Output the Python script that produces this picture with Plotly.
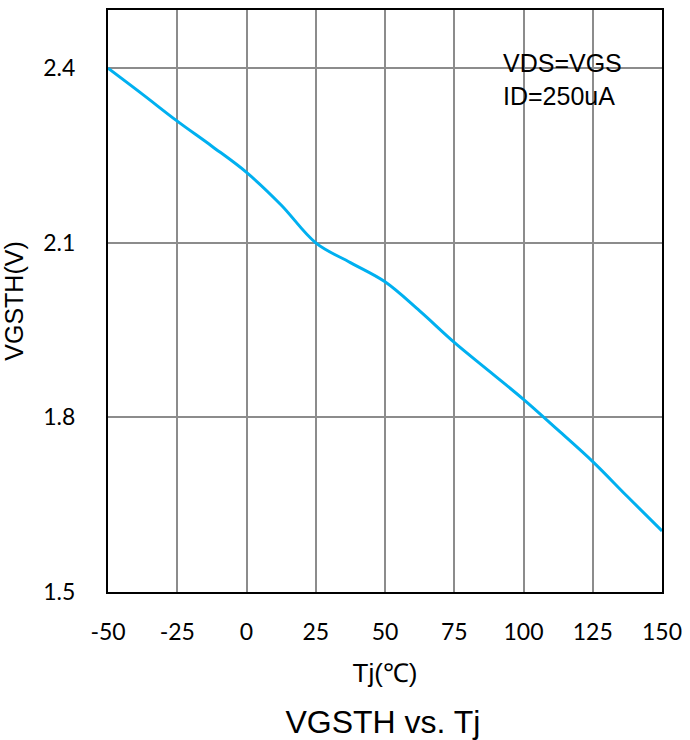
import plotly.graph_objects as go

# Junction temperature (°C) and gate threshold voltage (V)
tj = [-50, -37.5, -25, -12.5, 0, 12.5, 25, 37.5, 50, 62.5, 75, 87.5, 100, 112.5, 125, 137.5, 150]
vgsth = [2.400, 2.355, 2.309, 2.266, 2.221, 2.165, 2.100, 2.066, 2.033, 1.983, 1.929,
         1.880, 1.831, 1.778, 1.724, 1.664, 1.605]

x_ticks = [-50, -25, 0, 25, 50, 75, 100, 125, 150]
y_ticks = [1.5, 1.8, 2.1, 2.4]

fig = go.Figure()
fig.add_trace(go.Scatter(
    x=tj, y=vgsth, mode="lines",
    line=dict(color="#00B0F0", width=3, shape="spline", smoothing=1.0),
    showlegend=False, hoverinfo="skip",
))

tick_font = dict(family="Lato", size=23, color="#000000")
axis_common = dict(
    showline=True, linecolor="#000000", linewidth=2, mirror=True,
    showgrid=True, gridcolor="#8C8C8C", gridwidth=1.5,
    zeroline=False, ticks="", tickfont=tick_font,
)

fig.update_xaxes(
    range=[-50, 150], tickmode="array", tickvals=x_ticks,
    ticktext=[str(v) for v in x_ticks], ticklabelstandoff=18,
    title=dict(text="Tj(℃)", font=dict(family="Liberation Sans", size=26, color="#000000"), standoff=20),
    **axis_common,
)
fig.update_yaxes(
    range=[1.5, 2.5], tickmode="array", tickvals=y_ticks,
    ticktext=[f"{v:.1f}" for v in y_ticks], ticklabelstandoff=26,
    title=dict(text="VGSTH(V)", font=dict(family="Liberation Sans", size=25, color="#000000"), standoff=14),
    **axis_common,
)

fig.add_annotation(
    x=91.8, y=2.38, xref="x", yref="y", xanchor="left", yanchor="middle",
    text="VDS=VGS<br>ID=250uA", showarrow=False, align="left",
    font=dict(family="Liberation Sans", size=25, color="#000000"),
)

fig.update_layout(
    width=690, height=740,
    margin=dict(l=108, r=22, t=8, b=148),
    paper_bgcolor="#FFFFFF", plot_bgcolor="#FFFFFF",
    title=dict(text="VGSTH vs. Tj", x=0.555, xanchor="center", y=0.024, yanchor="middle",
               yref="container",
               font=dict(family="Liberation Sans", size=32, color="#000000")),
)

fig.write_html("out.html")
